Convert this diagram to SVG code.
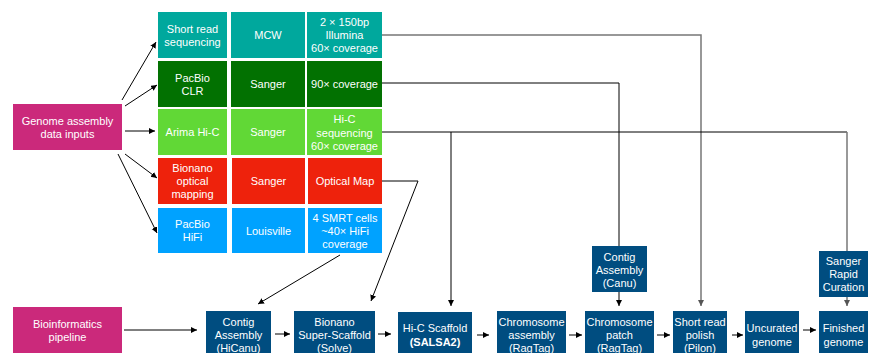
<svg xmlns="http://www.w3.org/2000/svg" width="870" height="353" viewBox="0 0 870 353">
<style>
text{font-family:"Liberation Sans",Arial,sans-serif;font-size:11px;fill:#fff;text-anchor:middle}
.b{font-weight:bold}
.teal{fill:#00A89D}.dg{fill:#027101}.lg{fill:#61D836}.red{fill:#EE220C}.blue{fill:#00A2FF}.mag{fill:#CB297B}.nav{fill:#004D80}
.k{stroke:#000;stroke-width:1;fill:none}
.g{stroke:#777;stroke-width:1.5;fill:none}
</style>
<defs>
<marker id="ah" markerUnits="userSpaceOnUse" markerWidth="7" markerHeight="7" refX="6" refY="3" orient="auto"><path d="M0,0 L6,3 L0,6 z" fill="#000"/></marker>
<marker id="ahg" markerUnits="userSpaceOnUse" markerWidth="7" markerHeight="7" refX="6" refY="3" orient="auto"><path d="M0,0 L6,3 L0,6 z" fill="#555"/></marker>
</defs>
<rect width="870" height="353" fill="#fff"/>

<g id="connectors">
<path class="k" d="M122,100 L156,42" marker-end="url(#ah)"/>
<path class="k" d="M125,106 L157,85" marker-end="url(#ah)"/>
<path class="k" d="M125,131 L155,131" marker-end="url(#ah)"/>
<path class="k" d="M125,154 L157,178" marker-end="url(#ah)"/>
<path class="k" d="M118,154 L157,233" marker-end="url(#ah)"/>
<path class="g" d="M382,35 H701 V306" marker-end="url(#ahg)"/>
<path class="k" d="M382,83 H619 V246"/>
<path class="k" d="M382,132 H847"/>
<path class="g" d="M847,132 V251"/>
<path class="k" d="M451,132 V306" marker-end="url(#ah)"/>
<path class="k" d="M382,181 H418 L371,301" marker-end="url(#ah)"/>
<path class="k" d="M340,255 L258,304" marker-end="url(#ah)"/>
<path class="k" d="M124,330 H197" marker-end="url(#ah)"/>
<path class="k" d="M619,292 V306" marker-end="url(#ah)"/>
<path class="g" d="M847,297 V306" marker-end="url(#ahg)"/>
<path class="k" d="M275,334 H290" marker-end="url(#ah)"/>
<path class="k" d="M378,334 H391" marker-end="url(#ah)"/>
<path class="k" d="M477,335 H489" marker-end="url(#ah)"/>
<path class="k" d="M569,335 H582" marker-end="url(#ah)"/>
<path class="k" d="M657,335 H670" marker-end="url(#ah)"/>
<path class="k" d="M732,335 H743" marker-end="url(#ah)"/>
<path class="k" d="M803,330 H816" marker-end="url(#ah)"/>
</g>

<g id="genome-inputs"><rect class="mag" x="13" y="104" width="109" height="46"/><text x="67.5" y="124.5">Genome assembly</text><text x="67.5" y="137.5">data inputs</text></g>
<g id="bioinformatics"><rect class="mag" x="13" y="307" width="109" height="46"/><text x="67.5" y="327.5">Bioinformatics</text><text x="67.5" y="340.5">pipeline</text></g>

<g id="r1c1"><rect class="teal" x="158" y="12" width="69" height="46"/><text x="192.5" y="32.5">Short read</text><text x="192.5" y="45.5">sequencing</text></g>
<g id="r1c2"><rect class="teal" x="231" y="12" width="74" height="46"/><text x="268" y="39">MCW</text></g>
<g id="r1c3"><rect class="teal" x="307" y="12" width="75" height="46"/><text x="344.5" y="26">2 × 150bp</text><text x="344.5" y="39">Illumina</text><text x="344.5" y="52">60× coverage</text></g>

<g id="r2c1"><rect class="dg" x="158" y="61" width="69" height="46"/><text x="192.5" y="81.5">PacBio</text><text x="192.5" y="94.5">CLR</text></g>
<g id="r2c2"><rect class="dg" x="231" y="61" width="74" height="46"/><text x="268" y="88">Sanger</text></g>
<g id="r2c3"><rect class="dg" x="307" y="61" width="75" height="46"/><text x="344.5" y="88">90× coverage</text></g>

<g id="r3c1"><rect class="lg" x="158" y="109" width="69" height="46"/><text x="192.5" y="136">Arima Hi-C</text></g>
<g id="r3c2"><rect class="lg" x="231" y="109" width="74" height="46"/><text x="268" y="136">Sanger</text></g>
<g id="r3c3"><rect class="lg" x="307" y="109" width="75" height="46"/><text x="344.5" y="123">Hi-C</text><text x="344.5" y="136.5">sequencing</text><text x="344.5" y="150">60× coverage</text></g>

<g id="r4c1"><rect class="red" x="158" y="158" width="69" height="46"/><text x="192.5" y="172">Bionano</text><text x="192.5" y="185">optical</text><text x="192.5" y="198">mapping</text></g>
<g id="r4c2"><rect class="red" x="232" y="158" width="73" height="46"/><text x="268.5" y="185">Sanger</text></g>
<g id="r4c3"><rect class="red" x="308" y="158" width="74" height="46"/><text x="345" y="185">Optical Map</text></g>

<g id="r5c1"><rect class="blue" x="158" y="208" width="69" height="45"/><text x="192.5" y="228">PacBio</text><text x="192.5" y="241">HiFi</text></g>
<g id="r5c2"><rect class="blue" x="232" y="208" width="73" height="45"/><text x="268.5" y="235">Louisville</text></g>
<g id="r5c3"><rect class="blue" x="308" y="208" width="74" height="45"/><text x="345" y="222">4 SMRT cells</text><text x="345" y="235">~40× HiFi</text><text x="345" y="248">coverage</text></g>

<g id="contig-hicanu"><rect class="nav" x="206" y="311" width="65" height="45"/><text x="238.5" y="326">Contig</text><text x="238.5" y="339">Assembly</text><text x="238.5" y="352">(HiCanu)</text></g>
<g id="bionano-solve"><rect class="nav" x="294" y="311" width="81" height="45"/><text x="334.5" y="326">Bionano</text><text x="334.5" y="339">Super-Scaffold</text><text x="334.5" y="352">(Solve)</text></g>
<g id="hic-scaffold"><rect class="nav" x="398" y="312" width="74" height="44"/><text x="435" y="332">Hi-C Scaffold</text><text class="b" x="435" y="346">(SALSA2)</text></g>
<g id="chrom-assembly"><rect class="nav" x="497" y="311" width="69" height="45"/><text x="531.5" y="326">Chromosome</text><text x="531.5" y="339">assembly</text><text x="531.5" y="352">(RagTag)</text></g>
<g id="chrom-patch"><rect class="nav" x="585" y="311" width="69" height="45"/><text x="619.5" y="326">Chromosome</text><text x="619.5" y="339">patch</text><text x="619.5" y="352">(RagTag)</text></g>
<g id="short-read-polish"><rect class="nav" x="673" y="311" width="54" height="45"/><text x="700" y="326">Short read</text><text x="700" y="339">polish</text><text x="700" y="352">(Pilon)</text></g>
<g id="uncurated"><rect class="nav" x="745" y="311" width="54" height="45"/><text x="772" y="332">Uncurated</text><text x="772" y="346">genome</text></g>
<g id="finished"><rect class="nav" x="819" y="311" width="49" height="45"/><text x="843.5" y="332">Finished</text><text x="843.5" y="346">genome</text></g>
<g id="contig-canu"><rect class="nav" x="592" y="246" width="55" height="46"/><text x="619.5" y="260.5">Contig</text><text x="619.5" y="273.5">Assembly</text><text x="619.5" y="286.5">(Canu)</text></g>
<g id="sanger-rapid"><rect class="nav" x="819" y="251" width="49" height="46"/><text x="843.5" y="265">Sanger</text><text x="843.5" y="278">Rapid</text><text x="843.5" y="291">Curation</text></g>
</svg>
